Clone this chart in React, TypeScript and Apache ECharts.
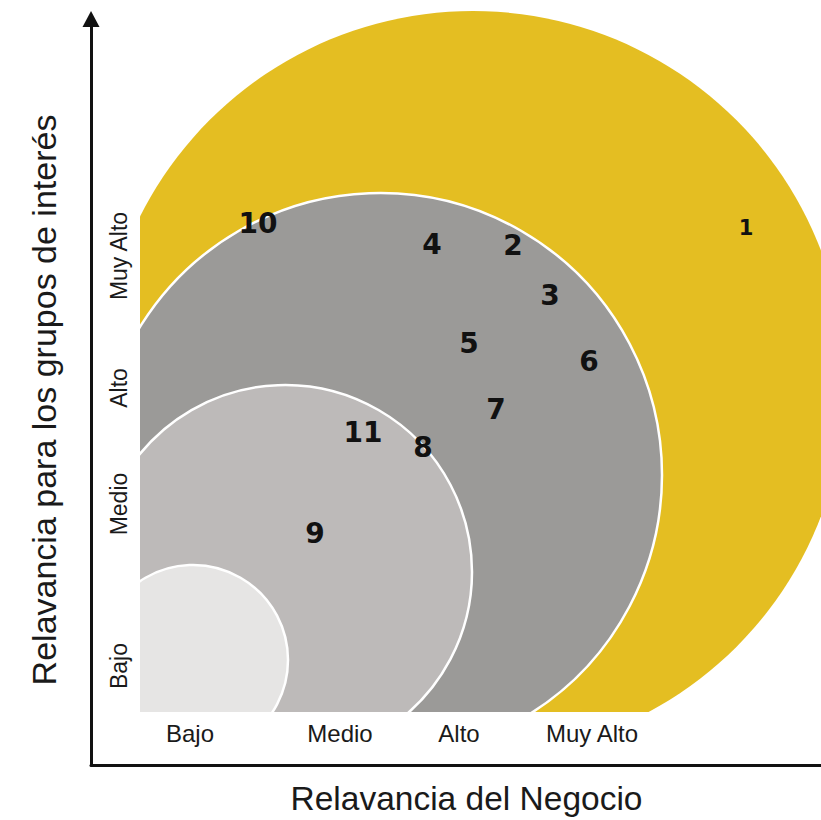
import React, { useEffect, useRef } from 'react';
import * as echarts from 'echarts';

// Axis tick labels (levels of relevance)
const levelLabels = ['Bajo', 'Medio', 'Alto', 'Muy Alto'];
const xTickValues = [5.0, 20.0, 31.9, 45.2];
const yTickValues = [4.6, 20.8, 32.4, 45.6];

// Nested relevance zones (outermost first)
const zoneNames = ['Muy Alto', 'Alto', 'Medio', 'Bajo'];
const zoneX = [33.3, 24.0, 14.5, 5.3];
const zoneY = [32.85, 23.7, 14.0, 5.2];
const zoneR = [37.25, 28.2, 18.7, 9.5];

// Material issues
const issueIds = ['1', '2', '3', '4', '5', '6', '7', '8', '9', '10', '11'];
const issueX = [60.6, 37.3, 41.0, 29.2, 32.9, 44.9, 35.6, 28.3, 17.5, 11.8, 22.3];
const issueY = [48.4, 46.7, 41.7, 46.8, 36.9, 35.1, 30.3, 26.5, 17.9, 48.9, 28.0];

const zoneColors = ['#E4BE22', '#9B9A98', '#BDBAB9', '#E6E5E4'];
const labelFont = '"Liberation Sans", Arial, sans-serif';
const numberFont = '"DejaVu Sans", Verdana, sans-serif';

function nearestLabel(v: number, ticks: number[]) {
  let best = 0;
  for (let i = 1; i < ticks.length; i++) {
    if (Math.abs(ticks[i] - v) < Math.abs(ticks[best] - v)) best = i;
  }
  return levelLabels[best];
}

export default function App() {
  const ref = useRef<HTMLDivElement>(null);

  useEffect(() => {
    if (!ref.current) return;
    const chart = echarts.init(ref.current, null, { renderer: 'svg' });
    const option: any = {
      animation: false,
      backgroundColor: '#ffffff',
      grid: [
        { left: 140, top: 0, width: 681, height: 712 },
        { left: 91, top: 19, right: 0, bottom: 52.5 },
      ],
      xAxis: [
        {
          type: 'value',
          gridIndex: 0,
          min: 0,
          max: 68.1,
          axisLine: { show: false },
          axisTick: { show: false },
          splitLine: { show: false },
          axisLabel: {
            customValues: xTickValues,
            formatter: (v: number) => nearestLabel(v, xTickValues),
            fontFamily: labelFont,
            fontSize: 24,
            color: '#1a1a1a',
            margin: 9,
          },
        },
        {
          type: 'value',
          gridIndex: 1,
          min: 0,
          max: 1,
          axisLine: { show: true, onZero: false, lineStyle: { color: '#111', width: 3 } },
          axisTick: { show: false },
          axisLabel: { show: false },
          splitLine: { show: false },
          name: 'Relavancia del Negocio',
          nameLocation: 'middle',
          nameGap: 16,
          nameTextStyle: {
            fontFamily: labelFont,
            fontSize: 33.5,
            color: '#1a1a1a',
            padding: [0, 0, 0, 21],
          },
        },
      ],
      yAxis: [
        {
          type: 'value',
          gridIndex: 0,
          min: 0,
          max: 71.2,
          axisLine: { show: false },
          axisTick: { show: false },
          splitLine: { show: false },
          axisLabel: {
            customValues: yTickValues,
            formatter: (v: number) => nearestLabel(v, yTickValues),
            rotate: 90,
            fontFamily: labelFont,
            fontSize: 23,
            color: '#1a1a1a',
            margin: 10,
          },
        },
        {
          type: 'value',
          gridIndex: 1,
          min: 0,
          max: 1,
          axisLine: {
            show: true,
            onZero: false,
            symbol: ['none', 'triangle'],
            symbolSize: [17, 16],
            lineStyle: { color: '#111', width: 3 },
          },
          axisTick: { show: false },
          axisLabel: { show: false },
          splitLine: { show: false },
          name: 'Relavancia para los grupos de interés',
          nameLocation: 'middle',
          nameGap: 30,
          nameTextStyle: {
            fontFamily: labelFont,
            fontSize: 34,
            color: '#1a1a1a',
            padding: [0, 16, 0, 0],
          },
        },
      ],
      series: [
        {
          type: 'custom',
          name: 'zonas',
          xAxisIndex: 0,
          yAxisIndex: 0,
          clip: true,
          data: zoneX.map((x, i) => [x, zoneY[i], zoneR[i], zoneNames[i]]),
          renderItem: (params: any, api: any) => {
            const i = params.dataIndex;
            const c = api.coord([api.value(0), api.value(1)]);
            const r = api.size([api.value(2), 0])[0];
            return {
              type: 'circle',
              shape: { cx: c[0], cy: c[1], r },
              style: {
                fill: zoneColors[i],
                stroke: i === 0 ? 'none' : '#ffffff',
                lineWidth: i === 0 ? 0 : 2.5,
              },
            };
          },
        },
        {
          type: 'custom',
          name: 'temas',
          xAxisIndex: 0,
          yAxisIndex: 0,
          clip: true,
          z: 5,
          data: issueX.map((x, i) => [x, issueY[i], issueIds[i]]),
          renderItem: (params: any, api: any) => {
            const i = params.dataIndex;
            const c = api.coord([api.value(0), api.value(1)]);
            const id = issueIds[i];
            return {
              type: 'text',
              x: c[0],
              y: c[1],
              style: {
                text: id,
                fill: '#111111',
                fontFamily: numberFont,
                fontWeight: 'bold',
                fontSize: id === '1' ? 21 : 28,
                align: 'center',
                verticalAlign: 'middle',
              },
            };
          },
        },
      ],
    };
    chart.setOption(option);
    return () => chart.dispose();
  }, []);

  return (
    <div
      ref={ref}
      style={{ position: 'fixed', left: 0, top: 0, width: 821, height: 820 }}
    />
  );
}
